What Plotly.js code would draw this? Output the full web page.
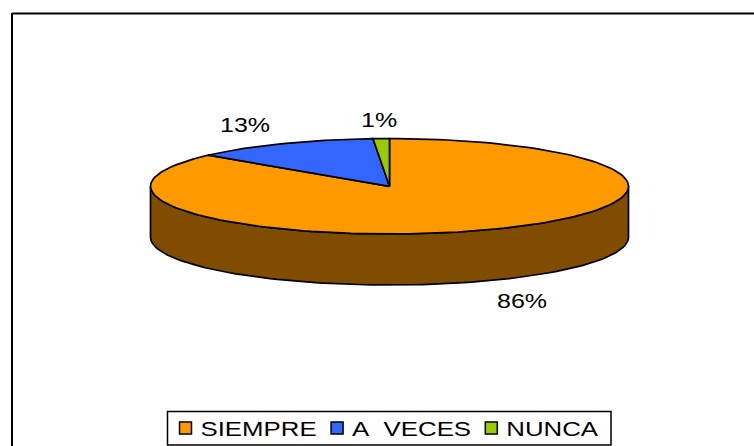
<!DOCTYPE html>
<html><head><meta charset="utf-8">
<script src="https://cdn.plot.ly/plotly-3.0.1.min.js"></script>
<style>html,body{margin:0;padding:0;background:#fff}
.legendtext{transform:translateX(-5px) scaleX(1.29);transform-box:fill-box;transform-origin:0 50%}
#js-plotly-tester .legendtext{transform:scaleX(1.185)}
.annotation-text{transform:scaleX(1.25);transform-box:fill-box;transform-origin:50% 50%}</style>
</head><body><div id="chart" style="width:754px;height:446px"></div>
<script>
const categories=["SIEMPRE","A\u00a0\u00a0VECES","NUNCA"];
const values=[86.3,12.6,1.1];
const topColors=["#FF9900","#3366FF","#99CC00"];
const sideColors=["#7F4C00","#1A3380","#4C6600"];
const labelX=[522,245,379];
const labelY=[301,125,120];

const cx=389.5,cy=186.3,rx=239,ry=47.7,depth=51;
const pt=(deg,dy)=>{const r=deg*Math.PI/180;return [cx+rx*Math.sin(r),cy-ry*Math.cos(r)+(dy||0)];};
const total=values.reduce((a,b)=>a+b,0);
let start=0;const slices=values.map(v=>{const s=start,e=start+v/total*360;start=e;return [s,e];});
const arc=(a,b,dy)=>{const out=[];const n=Math.max(2,Math.ceil((b-a)/2));for(let i=0;i<=n;i++)out.push(pt(a+(b-a)*i/n,dy));return out;};
const toXY=p=>({x:p.map(q=>q[0]),y:p.map(q=>q[1])});
const traces=[];
slices.forEach((sl,i)=>{
  const a=Math.max(sl[0],90),b=Math.min(sl[1],270);
  if(b>a){const p=arc(a,b,0).concat(arc(a,b,depth).reverse());p.push(p[0]);
    traces.push({type:"scatter",mode:"lines",...toXY(p),fill:"toself",fillcolor:sideColors[i],line:{color:"#000",width:1.7},showlegend:false,hoverinfo:"skip"});}
});
slices.forEach((sl,i)=>{
  const p=[[cx,cy]].concat(arc(sl[0],sl[1],0));p.push([cx,cy]);
  traces.push({type:"scatter",mode:"lines",...toXY(p),fill:"toself",fillcolor:topColors[i],line:{color:"#000",width:1.7},showlegend:false,hoverinfo:"skip"});
});
categories.forEach((c,i)=>{
  traces.push({type:"scatter",mode:"markers",x:[null],y:[null],name:c,marker:{symbol:"square",size:12,color:topColors[i],line:{color:"#000",width:1.5}}});
});
const annotations=values.map((v,i)=>({x:labelX[i],y:labelY[i],xref:"x",yref:"y",text:Math.round(v)+"%",showarrow:false,font:{family:"Liberation Sans",size:20,color:"#000"}}));
const layout={width:754,height:446,margin:{l:0,r:0,t:0,b:0,autoexpand:false},paper_bgcolor:"#fff",plot_bgcolor:"#fff",
  xaxis:{range:[0,754],visible:false,fixedrange:true},
  yaxis:{range:[446,0],visible:false,fixedrange:true},
  annotations,
  shapes:[
    {type:"line",xref:"x",yref:"y",x0:12,y0:13.5,x1:754,y1:13.5,line:{color:"#000",width:2}},
    {type:"line",xref:"x",yref:"y",x0:12,y0:13,x1:12,y1:446,line:{color:"#000",width:2}},
    {type:"rect",xref:"x",yref:"y",x0:167.5,y0:411.5,x1:611,y1:445,line:{color:"#000",width:1.5},fillcolor:"#fff"}],
  legend:{orientation:"h",x:165.5/754,y:1-408.5/446,xanchor:"left",yanchor:"top",bgcolor:"rgba(0,0,0,0)",borderwidth:0,font:{family:"Liberation Sans",size:20,color:"#000"},itemwidth:30},
  showlegend:true};
Plotly.newPlot("chart",traces,layout,{displayModeBar:false,staticPlot:true});
</script></body></html>
